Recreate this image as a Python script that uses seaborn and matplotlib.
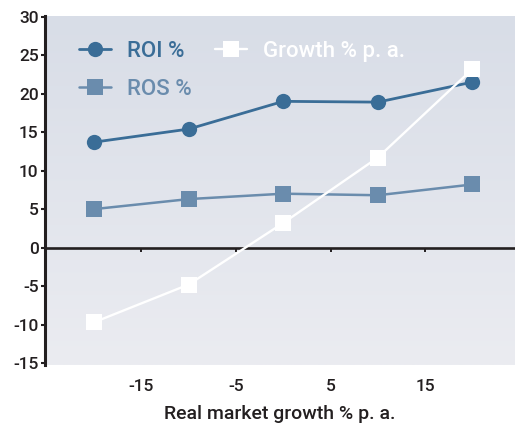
import numpy as np
import pandas as pd
import matplotlib
matplotlib.use("Agg")
import matplotlib.pyplot as plt
import seaborn as sns
from matplotlib.colors import LinearSegmentedColormap

# Real market growth (% p.a.) buckets and the three measured series
market_growth = [-20, -10, 0, 10, 20]
roi = [13.7, 15.4, 19.0, 18.9, 21.5]
ros = [5.0, 6.3, 7.0, 6.8, 8.2]
growth = [-9.7, -4.8, 3.2, 11.7, 23.2]

x_ticks = [-15, -5, 5, 15]
y_ticks = [-15, -10, -5, 0, 5, 10, 15, 20, 25, 30]

series_labels = ["ROI %", "ROS %", "Growth % p. a."]

sns.set_theme(style="white")
plt.rcParams["font.family"] = ["Roboto", "DejaVu Sans"]
plt.rcParams["axes.unicode_minus"] = False

df = pd.DataFrame({
    "x": market_growth * 3,
    "value": roi + ros + growth,
    "series": [series_labels[0]] * 5 + [series_labels[1]] * 5 + [series_labels[2]] * 5,
})

roi_color = "#3a6d97"
ros_color = "#6a8cad"
grw_color = "#ffffff"
ink = "#231f20"

fig = plt.figure(figsize=(5.15, 4.30), dpi=100)
ax = fig.add_axes([45 / 515, 1 - 365 / 430, 1 - 45 / 515, (365 - 16) / 430])

ax.set_xlim(-25.2, 24.5)
ax.set_ylim(-15.26, 30.09)

# soft vertical gradient behind the plot
grad = np.linspace(0, 1, 256).reshape(-1, 1)
cmap = LinearSegmentedColormap.from_list("bg", ["#d8dde7", "#ebecf1"])
ax.imshow(grad, cmap=cmap, extent=[0, 1, 0, 1], transform=ax.transAxes,
          aspect="auto", origin="upper", zorder=0)

ax.axhline(0, color=ink, lw=1.9, zorder=1)

styles = {
    series_labels[0]: dict(color=roi_color, marker="o", ms=11, lw=2.0),
    series_labels[1]: dict(color=ros_color, marker="s", ms=11, lw=1.8),
    series_labels[2]: dict(color=grw_color, marker="s", ms=12, lw=1.7),
}
for name in series_labels:
    sub = df[df["series"] == name]
    st = styles[name]
    sns.lineplot(data=sub, x="x", y="value", ax=ax, color=st["color"],
                 marker=st["marker"], markersize=st["ms"], linewidth=st["lw"],
                 markeredgewidth=0, label=name, zorder=3)

# axes styling
for side in ["top", "right", "bottom"]:
    ax.spines[side].set_visible(False)
ax.spines["left"].set_color(ink)
ax.spines["left"].set_linewidth(2.2)
ax.spines["left"].set_zorder(4)

ax.set_yticks(y_ticks)
ax.set_xticks(x_ticks)
ax.tick_params(axis="y", direction="out", length=3, width=1.5, color=ink,
               pad=1.5, labelsize=12.5, labelcolor=ink, left=True)
ax.tick_params(axis="x", length=0, pad=10, labelsize=12.5, labelcolor=ink)
for lab in ax.get_yticklabels() + ax.get_xticklabels():
    lab.set_fontweight("medium")

# tick marks sitting on the zero line
zx = ax.secondary_xaxis(0, transform=ax.transData)
zx.set_xticks(x_ticks)
zx.tick_params(direction="out", length=3, width=1.4, color=ink, labelbottom=False)
zx.spines["bottom"].set_visible(False)

ax.set_xlabel("Real market growth % p. a.", fontsize=14, color=ink,
              labelpad=8, fontweight="medium")
ax.set_ylabel("")

handles, labels = ax.get_legend_handles_labels()
leg = ax.legend(handles, labels, ncol=2, frameon=False, loc="upper left",
                bbox_to_anchor=(0.03, 0.986), fontsize=16, handlelength=1.45,
                handletextpad=0.7, labelspacing=0.75, columnspacing=1.05,
                prop={"size": 16, "weight": "medium"})
for text, c in zip(leg.get_texts(), [roi_color, ros_color, grw_color]):
    text.set_color(c)

fig.savefig("out.png", dpi=100)
